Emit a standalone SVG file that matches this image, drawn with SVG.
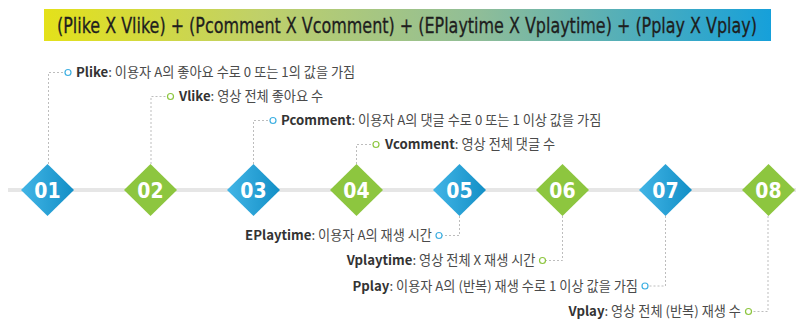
<svg xmlns="http://www.w3.org/2000/svg" width="800" height="320" viewBox="0 0 800 320">
<defs>
<linearGradient id="barG" x1="0" y1="0" x2="1" y2="0">
<stop offset="0" stop-color="#e4e11a"/>
<stop offset="0.3" stop-color="#bfd06a"/>
<stop offset="0.6" stop-color="#8fbd98"/>
<stop offset="1" stop-color="#16a0da"/>
</linearGradient>
<linearGradient id="blueG" x1="0" y1="0" x2="1" y2="0">
<stop offset="0" stop-color="#42b5e6"/>
<stop offset="1" stop-color="#138fc6"/>
</linearGradient>
<style>
.title{font-family:'DejaVu Sans Condensed','DejaVu Sans',sans-serif;font-size:22px;fill:#1e1e1e;stroke:#1e1e1e;stroke-width:0.3;}
.num{font-family:'DejaVu Sans Condensed','DejaVu Sans',sans-serif;font-weight:bold;font-size:21px;fill:#fff;text-anchor:middle;}
.lbl{font-family:'Noto Sans CJK KR','Noto Sans',sans-serif;font-size:13.2px;fill:#4a4a4a;}
.b{font-weight:bold;fill:#333;}
.dash{fill:none;stroke:#bdbdbd;stroke-width:1;stroke-dasharray:2 2;}
.cb{fill:#fff;stroke:#3eb0e2;stroke-width:1.2;}
.cg{fill:#fff;stroke:#8dc63f;stroke-width:1.2;}
.blue{fill:url(#blueG);}
.green{fill:#8dc63f;}
</style>
</defs>
<g id="title">
<rect x="44" y="9" width="727" height="32" fill="url(#barG)"/>
<text class="title" transform="translate(57,33) scale(0.8,1)" x="0" y="0" textLength="875" lengthAdjust="spacingAndGlyphs">(Plike X Vlike) + (Pcomment X Vcomment) + (EPlaytime X Vplaytime) + (Pplay X Vplay)</text>
</g>
<rect id="timeline" x="8" y="188" width="788" height="4" fill="#e6e6e6"/>
<g id="connectors">
<path class="dash" d="M48.5 164V72.5H65"/>
<path class="dash" d="M151 164V96.5H167.5"/>
<path class="dash" d="M253.5 164V120.5H270"/>
<path class="dash" d="M356.5 164V144.5H373"/>
<path class="dash" d="M459.5 216V235.5H442"/>
<path class="dash" d="M562.5 216V260.5H545.5"/>
<path class="dash" d="M665.5 216V286H648"/>
<path class="dash" d="M768 216V311.5H751.5"/>
<circle class="cb" cx="68" cy="72.5" r="3"/>
<circle class="cg" cx="170.5" cy="96.5" r="3"/>
<circle class="cb" cx="273" cy="120.5" r="3"/>
<circle class="cg" cx="376" cy="144.5" r="3"/>
<circle class="cb" cx="439" cy="235.5" r="3"/>
<circle class="cg" cx="542.5" cy="260.5" r="3"/>
<circle class="cb" cx="645" cy="286" r="3"/>
<circle class="cg" cx="748.5" cy="311.5" r="3"/>
</g>
<g id="n01"><path class="blue" d="M47.5 164L74 190L47.5 216L21 190Z"/><text class="num" x="47.5" y="197.5">01</text></g>
<g id="n02"><path class="green" d="M150.5 164L177 190L150.5 216L124 190Z"/><text class="num" x="150.5" y="197.5">02</text></g>
<g id="n03"><path class="blue" d="M253.5 164L280 190L253.5 216L227 190Z"/><text class="num" x="253.5" y="197.5">03</text></g>
<g id="n04"><path class="green" d="M356.5 164L383 190L356.5 216L330 190Z"/><text class="num" x="356.5" y="197.5">04</text></g>
<g id="n05"><path class="blue" d="M459.5 164L486 190L459.5 216L433 190Z"/><text class="num" x="459.5" y="197.5">05</text></g>
<g id="n06"><path class="green" d="M562.5 164L589 190L562.5 216L536 190Z"/><text class="num" x="562.5" y="197.5">06</text></g>
<g id="n07"><path class="blue" d="M665.5 164L692 190L665.5 216L639 190Z"/><text class="num" x="665.5" y="197.5">07</text></g>
<g id="n08"><path class="green" d="M768.5 164L795 190L768.5 216L742 190Z"/><text class="num" x="768.5" y="197.5">08</text></g>
<g id="label01"><text class="lbl" x="76" y="77"><tspan class="b">Plike</tspan>: 이용자 A의 좋아요 수로 0 또는 1의 값을 가짐</text></g>
<g id="label02"><text class="lbl" x="179" y="101"><tspan class="b">Vlike</tspan>: 영상 전체 좋아요 수</text></g>
<g id="label03"><text class="lbl" x="281" y="125"><tspan class="b">Pcomment</tspan>: 이용자 A의 댓글 수로 0 또는 1 이상 값을 가짐</text></g>
<g id="label04"><text class="lbl" x="385" y="149"><tspan class="b">Vcomment</tspan>: 영상 전체 댓글 수</text></g>
<g id="label05"><text class="lbl" x="432" y="240" text-anchor="end"><tspan class="b">EPlaytime</tspan>: 이용자 A의 재생 시간</text></g>
<g id="label06"><text class="lbl" x="535.5" y="265" text-anchor="end"><tspan class="b">Vplaytime</tspan>: 영상 전체 X 재생 시간</text></g>
<g id="label07"><text class="lbl" x="638" y="290.5" text-anchor="end"><tspan class="b">Pplay</tspan>: 이용자 A의 (반복) 재생 수로 1 이상 값을 가짐</text></g>
<g id="label08"><text class="lbl" x="741" y="316" text-anchor="end"><tspan class="b">Vplay</tspan>: 영상 전체 (반복) 재생 수</text></g>
</svg>
